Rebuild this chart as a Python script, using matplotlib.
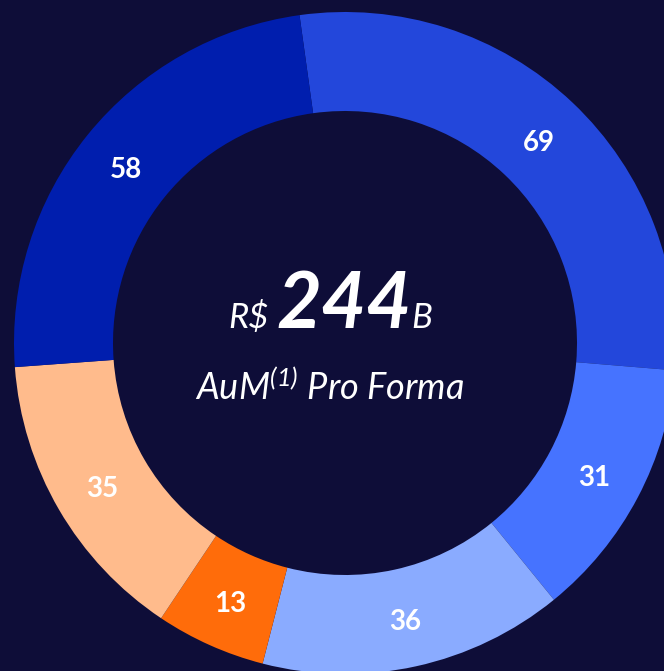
import numpy as np
import matplotlib
matplotlib.use("Agg")
from matplotlib import pyplot as plt

# slices clockwise from the top
values = [69, 31, 36, 13, 35, 58]
colors = ["#2347DB", "#4673FF", "#8AABFF", "#FF6C0A", "#FFBB8C", "#001EAE"]
total_label = "244"

bg = "#0E0D38"
plt.rcParams["font.family"] = ["Lato", "DejaVu Sans"]
plt.rcParams["mathtext.fontset"] = "custom"
plt.rcParams["mathtext.rm"] = "Lato:italic"
plt.rcParams["mathtext.it"] = "Lato:italic"

fig = plt.figure(figsize=(6.64, 6.71), dpi=100, facecolor=bg)
ax = fig.add_axes([0, 0, 1, 1])
ax.set_facecolor(bg)

tot = sum(values)
wedges, texts, autotexts = ax.pie(
    values, colors=colors, startangle=97.9, counterclock=False,
    radius=331, center=(345, 328),
    wedgeprops=dict(width=99, edgecolor="none", linewidth=0),
    autopct=lambda p: f"{p * tot / 100:.0f}", pctdistance=0.85,
    textprops=dict(color="white", fontsize=20, fontweight="bold"))
# nudge the value labels down a bit
for t in autotexts:
    x, y = t.get_position()
    t.set_position((x, y - 4))

ax.set_xlim(0, 664)
ax.set_ylim(0, 671)
ax.set_aspect("equal")
ax.axis("off")

# centre text
ax.text(269, 343, "R$", color="white", fontsize=25, style="italic",
        ha="right", va="baseline")
ax.text(344, 343, total_label, color="white", fontsize=56, style="italic",
        fontweight="bold", ha="center", va="baseline")
ax.text(411, 343, "B", color="white", fontsize=25, style="italic",
        ha="left", va="baseline")
ax.text(330, 271, r"AuM$^{\mathrm{(1)}}$ Pro Forma", color="white", fontsize=26,
        style="italic", ha="center", va="baseline")

fig.savefig("out.png", dpi=100, facecolor=bg)
